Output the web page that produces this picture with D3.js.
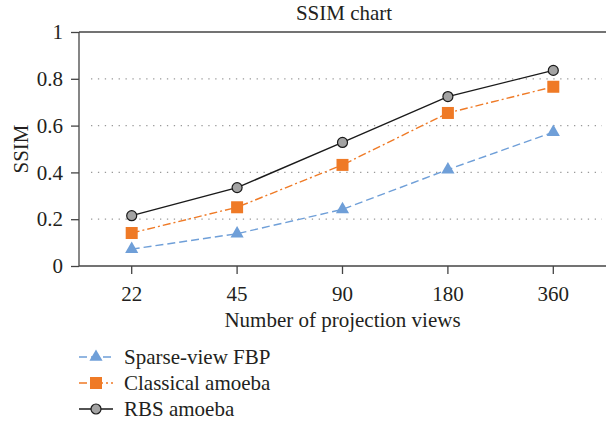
<!DOCTYPE html>
<html>
<head>
<meta charset="utf-8">
<script src="https://cdn.jsdelivr.net/npm/d3@7"></script>
<style>
  body { margin: 0; background: #fff; }
  svg { display: block; }
  svg text { font-family: "Liberation Serif", "DejaVu Serif", "Times New Roman", serif; }
</style>
</head>
<body>
<svg id="chart" width="606" height="427"></svg>
<script>
  var views = ["22", "45", "90", "180", "360"];
  var fbp = [0.072, 0.138, 0.242, 0.412, 0.572];
  var classical = [0.141, 0.251, 0.432, 0.654, 0.766];
  var rbs = [0.215, 0.335, 0.528, 0.724, 0.836];
  var yTicks = [0, 0.2, 0.4, 0.6, 0.8, 1];

  var series = [
    {name: "Sparse-view FBP", values: fbp, color: "#6f9fd8", dash: "8,4", marker: "triangle"},
    {name: "Classical amoeba", values: classical, color: "#ef7a26", dash: "8,3,2,3", marker: "square"},
    {name: "RBS amoeba", values: rbs, color: "#1a1a1a", dash: null, marker: "circle"}
  ];

  var mLeft = 79, mRight = 606, mTop = 32, mBottom = 266;
  var fs = 21;
  var svg = d3.select("#chart");

  var x = d3.scaleBand().domain(views).range([mLeft, mRight]);
  var y = d3.scaleLinear().domain([0, 1]).range([mBottom, mTop]);
  var cx = function(i) { return x(views[i]) + x.bandwidth() / 2; };

  // dotted grid
  svg.append("g").selectAll("line")
    .data(yTicks.filter(function(d) { return d > 0 && d < 1; }))
    .enter().append("line")
    .attr("x1", mLeft + 12).attr("x2", mRight - 4)
    .attr("y1", function(d) { return y(d); }).attr("y2", function(d) { return y(d); })
    .attr("stroke", "#999").attr("stroke-width", 1.3)
    .attr("stroke-dasharray", "1.3,5.6");

  // top frame line at 1
  svg.append("line")
    .attr("x1", mLeft).attr("x2", mRight)
    .attr("y1", y(1)).attr("y2", y(1))
    .attr("stroke", "#444").attr("stroke-width", 1.3);

  var yAxis = svg.append("g")
    .attr("transform", "translate(" + mLeft + ",0)")
    .call(d3.axisLeft(y).tickValues(yTicks).tickSize(8).tickPadding(8)
      .tickFormat(function(d) { return d === 0 || d === 1 ? d : d3.format(".1f")(d); }));
  yAxis.attr("font-family", null).attr("font-size", fs);
  yAxis.select(".domain").attr("stroke", "#444").attr("stroke-width", 1.3).attr("d", "M0," + mTop + "V" + mBottom);
  yAxis.selectAll(".tick line").attr("stroke", "#444").attr("stroke-width", 1.3);
  yAxis.selectAll(".tick text").attr("fill", "#231f20");

  var xAxis = svg.append("g")
    .attr("transform", "translate(0," + mBottom + ")")
    .call(d3.axisBottom(x).tickSize(8).tickPadding(12));
  xAxis.attr("font-family", null).attr("font-size", fs);
  xAxis.select(".domain").attr("stroke", "#444").attr("stroke-width", 1.3).attr("d", "M" + mLeft + ",0H" + mRight);
  xAxis.selectAll(".tick line").attr("stroke", "#444").attr("stroke-width", 1.3);
  xAxis.selectAll(".tick text").attr("fill", "#231f20");

  // title and axis labels
  svg.append("text").attr("x", 344).attr("y", 20).attr("text-anchor", "middle")
    .attr("font-size", fs).attr("fill", "#231f20").text("SSIM chart");
  svg.append("text").attr("transform", "translate(28," + ((mTop + mBottom) / 2) + ") rotate(-90)")
    .attr("text-anchor", "middle").attr("font-size", fs).attr("fill", "#231f20").text("SSIM");
  svg.append("text").attr("x", (mLeft + mRight) / 2).attr("y", 327).attr("text-anchor", "middle")
    .attr("font-size", fs).attr("fill", "#231f20").text("Number of projection views");

  var line = d3.line().x(function(d, i) { return cx(i); }).y(function(d) { return y(d); });

  function drawMarker(g, s, px, py) {
    if (s.marker === "triangle") {
      g.append("path").attr("d", d3.symbol().type(d3.symbolTriangle).size(75)())
        .attr("transform", "translate(" + px + "," + py + ")").attr("fill", s.color);
    } else if (s.marker === "square") {
      g.append("rect").attr("x", px - 6).attr("y", py - 6).attr("width", 12).attr("height", 12)
        .attr("fill", s.color);
    } else {
      g.append("circle").attr("cx", px).attr("cy", py).attr("r", 5)
        .attr("fill", "#a3a3a3").attr("stroke", "#1a1a1a").attr("stroke-width", 1.2);
    }
  }

  series.forEach(function(s) {
    svg.append("path").datum(s.values)
      .attr("d", line).attr("fill", "none").attr("stroke", s.color).attr("stroke-width", 1.4)
      .attr("stroke-dasharray", s.dash);
    var g = svg.append("g");
    s.values.forEach(function(v, i) { drawMarker(g, s, cx(i), y(v)); });
  });

  // legend
  var legend = svg.append("g");
  series.forEach(function(s, i) {
    var ly = 357 + i * 26;
    legend.append("line").attr("x1", 79).attr("x2", 113).attr("y1", ly).attr("y2", ly)
      .attr("stroke", s.color).attr("stroke-width", 1.4).attr("stroke-dasharray", s.dash);
    drawMarker(legend, s, 96, ly);
    legend.append("text").attr("x", 124).attr("y", ly + 7).attr("font-size", fs).attr("fill", "#231f20").text(s.name);
  });
</script>
</body>
</html>
